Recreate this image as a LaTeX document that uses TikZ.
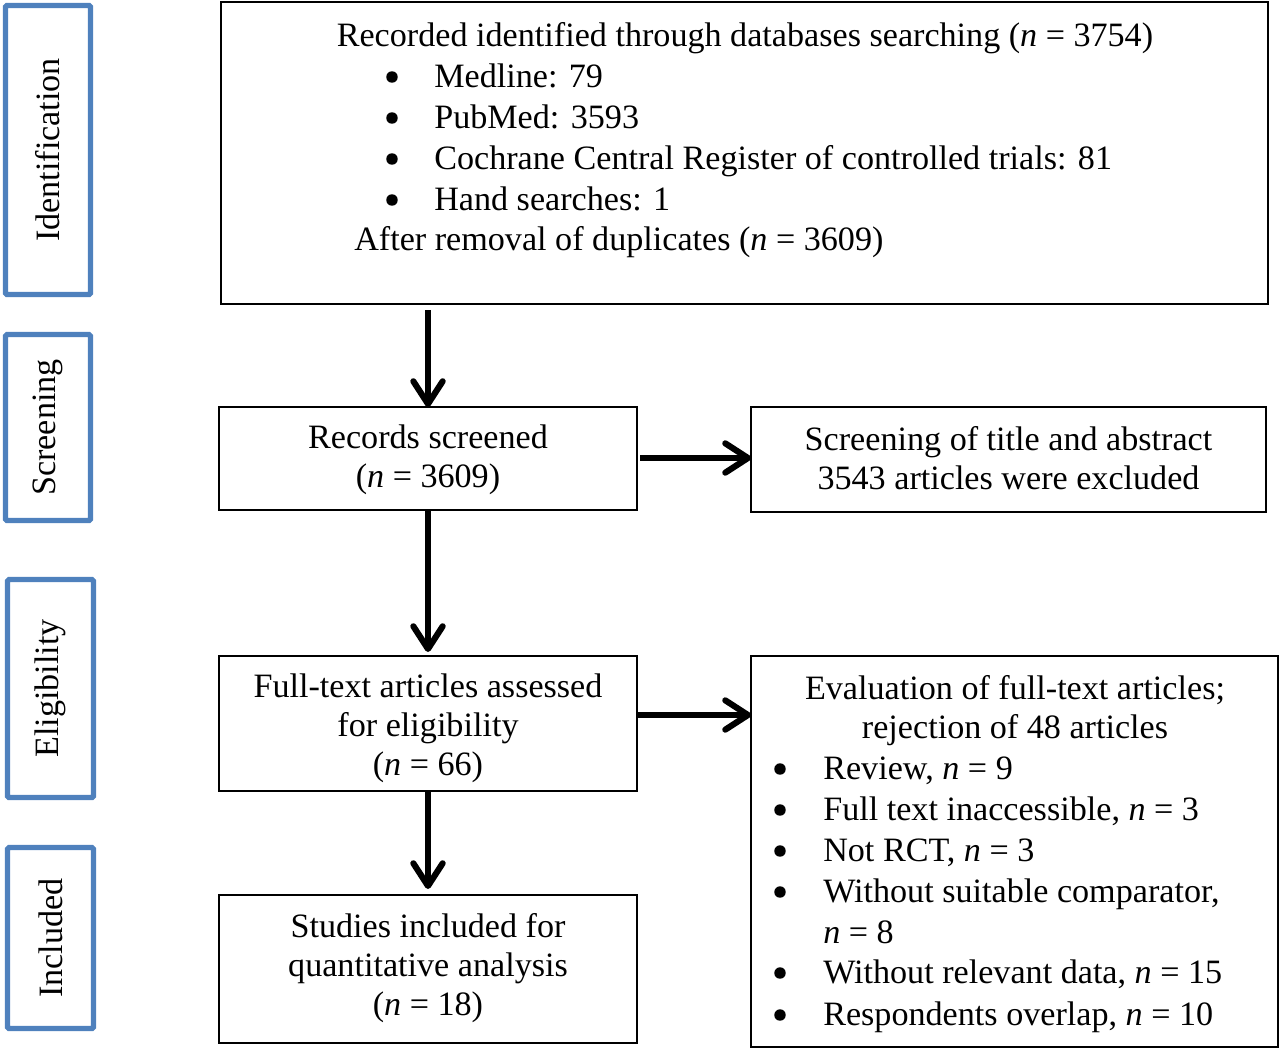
\documentclass[tikz,border=0pt]{standalone}
\usepackage{fontspec}
\setmainfont{Liberation Serif}
\usetikzlibrary{arrows.meta}
\definecolor{stageblue}{RGB}{79,129,189}
\newcommand{\fs}{\fontsize{25.6}{29.3}\selectfont}
\newcommand{\nn}{\textit{n}}
\tikzset{
  box/.style={draw=black, line width=1.5pt, inner sep=0pt, outer sep=0pt},
  boxtext/.style={align=center, font=\fs, inner sep=0pt},
  stage/.style={draw=stageblue, line width=3.8pt, rounded corners=1pt, inner sep=0pt, outer sep=0pt},
  stagetext/.style={rotate=90, font=\fs, inner sep=0pt},
  txt/.style={font=\fs, inner sep=0pt, anchor=base west},
  ctxt/.style={font=\fs, inner sep=0pt, anchor=base},
  bul/.style={fill=black, circle, inner sep=0pt, minimum size=8.6pt},
  arr/.style={line width=4.6pt, -{Straight Barb[length=17pt,width=22pt,line cap=round,line join=round]}}
}
\begin{document}
\begin{tikzpicture}[x=0.75pt,y=-0.75pt]
\useasboundingbox (0,0) rectangle (1280,1049);
% stage boxes
\node[stage, minimum width=85*0.75pt, minimum height=289*0.75pt] (sid) at (48,150) {};
\node[stagetext] (lid) at (sid.center) {Identification};
\node[stage, minimum width=85*0.75pt, minimum height=186*0.75pt] (ssc) at (48,427.5) {};
\node[stagetext] (lsc) at (ssc.center) {Screening};
\node[stage, minimum width=86*0.75pt, minimum height=218*0.75pt] (sel) at (50.5,688.5) {};
\node[stagetext] (lel) at (sel.center) {Eligibility};
\node[stage, minimum width=86*0.75pt, minimum height=181*0.75pt] (sin) at (50.5,938) {};
\node[stagetext] (lin) at (sin.center) {Included};
% top box
\node[box, minimum width=1047*0.75pt, minimum height=302*0.75pt] (top) at (744.5,153) {};
\node[ctxt] (t1) at (745,46) {Recorded identified through databases searching (\nn{} = 3754)};
\node[bul] (b1) at (392,77) {};
\node[txt] (t2) at (434,87) {Medline: 79};
\node[bul] (b2) at (392,118) {};
\node[txt] (t3) at (434,128) {PubMed: 3593};
\node[bul] (b3) at (392,159) {};
\node[txt] (t4) at (434,169) {Cochrane Central Register of controlled trials: 81};
\node[bul] (b4) at (392,200) {};
\node[txt] (t5) at (434,210) {Hand searches: 1};
\node[txt] (t6) at (354,250) {After removal of duplicates (\nn{} = 3609)};
% flow boxes
\node[box, minimum width=418*0.75pt, minimum height=103*0.75pt] (scr) at (428,458.5) {};
\node[boxtext] (scrT) at (428,459.5) {Records screened\\(\nn{} = 3609)};
\node[box, minimum width=515*0.75pt, minimum height=105*0.75pt] (ex1) at (1008.5,459.5) {};
\node[boxtext] (ex1T) at (1008.5,458.5) {Screening of title and abstract\\3543 articles were excluded};
\node[box, minimum width=418*0.75pt, minimum height=135*0.75pt] (ful) at (428,723.5) {};
\node[boxtext] (fulT) at (428,728.5) {Full-text articles assessed\\for eligibility\\(\nn{} = 66)};
\node[box, minimum width=418*0.75pt, minimum height=148*0.75pt] (inc) at (428,969) {};
\node[boxtext] (incT) at (428,968) {Studies included for\\quantitative analysis\\(\nn{} = 18)};
% evaluation box
\node[box, minimum width=527*0.75pt, minimum height=391*0.75pt] (ex2) at (1014.5,851.5) {};
\node[ctxt] (e1) at (1015,699) {Evaluation of full-text articles;};
\node[ctxt] (e2) at (1015,738) {rejection of 48 articles};
\node[bul] (eb1) at (780,769) {};
\node[txt] (e3) at (823,779) {Review, \nn{} = 9};
\node[bul] (eb2) at (780,810) {};
\node[txt] (e4) at (823,820) {Full text inaccessible, \nn{} = 3};
\node[bul] (eb3) at (780,851) {};
\node[txt] (e5) at (823,861) {Not RCT, \nn{} = 3};
\node[bul] (eb4) at (780,892) {};
\node[txt] (e6) at (823,902) {Without suitable comparator,};
\node[txt] (e7) at (823,943) {\nn{} = 8};
\node[bul] (eb5) at (780,973) {};
\node[txt] (e8) at (823,983) {Without relevant data, \nn{} = 15};
\node[bul] (eb6) at (780,1015) {};
\node[txt] (e9) at (823,1025) {Respondents overlap, \nn{} = 10};
% arrows
\draw[arr] ([yshift=-6*0.75pt]scr.north |- top.south) -- (scr.north);
\draw[arr] (scr.south) -- ([yshift=4*0.75pt]ful.north);
\draw[arr] (ful.south) -- ([yshift=6*0.75pt]inc.north);
\draw[arr] ([xshift=3*0.75pt]scr.east |- 0,458) -- (ex1.west |- 0,458);
\draw[arr] (ful.east |- 0,715) -- (ex2.west |- 0,715);
\end{tikzpicture}
\end{document}
